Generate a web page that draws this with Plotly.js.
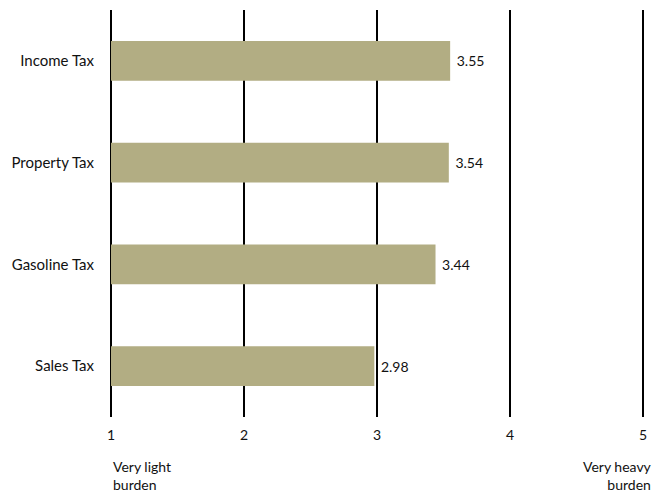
<!DOCTYPE html>
<html>
<head>
<meta charset="utf-8">
<script src="https://cdn.plot.ly/plotly-3.0.1.min.js"></script>
<style>html,body{margin:0;padding:0;background:#fff;}#chart{width:653px;height:496px;}</style>
</head>
<body>
<div id="chart"></div>
<script>
const categories = ["Income Tax", "Property Tax", "Gasoline Tax", "Sales Tax"];
const values = [3.55, 3.54, 3.44, 2.98];
const tickVals = [1, 2, 3, 4, 5];
const tickText = ["1", "2", "3", "4", "5"];
const leftNote = "Very light<br>burden";
const rightNote = "Very heavy<br>burden";

const FONT = "Lato, 'Open Sans', sans-serif";

const trace = {
  type: "bar",
  orientation: "h",
  y: categories,
  x: values.map(v => v - 1),
  base: 1,
  width: 0.39,
  marker: {color: "#b2ad83"},
  text: values.map(v => "\u00a0" + v.toFixed(2)),
  textposition: "outside",
  cliponaxis: false,
  textfont: {family: FONT, size: 14, color: "#111"},
  hoverinfo: "skip"
};

const layout = {
  width: 653, height: 496,
  margin: {l: 109, r: 8, t: 10, b: 79},
  paper_bgcolor: "#fff", plot_bgcolor: "#fff",
  showlegend: false,
  font: {family: FONT, size: 13, color: "#111"},
  xaxis: {
    range: [0.985, 5.015],
    tickvals: tickVals, ticktext: tickText,
    showgrid: true, gridcolor: "#000", gridwidth: 2,
    zeroline: false, showline: false,
    ticks: "", ticklabelstandoff: 8,
    tickfont: {family: FONT, size: 14, color: "#111"},
    fixedrange: true
  },
  yaxis: {
    type: "category",
    categoryorder: "array", categoryarray: categories,
    autorange: "reversed",
    showgrid: false, zeroline: false, showline: false,
    ticks: "", ticklabelstandoff: 14,
    tickfont: {family: FONT, size: 15, color: "#111"},
    fixedrange: true
  },
  annotations: [
    {xref: "x", yref: "paper", x: 1, y: 0, xanchor: "left", yanchor: "top", yshift: -39,
     text: leftNote, showarrow: false, align: "left", font: {family: FONT, size: 14, color: "#111"}},
    {xref: "x", yref: "paper", x: 5, y: 0, xanchor: "right", yanchor: "top", yshift: -39, xshift: 11,
     text: rightNote, showarrow: false, align: "right", font: {family: FONT, size: 14, color: "#111"}}
  ]
};

Plotly.newPlot("chart", [trace], layout, {displayModeBar: false, staticPlot: true});
</script>
</body>
</html>
